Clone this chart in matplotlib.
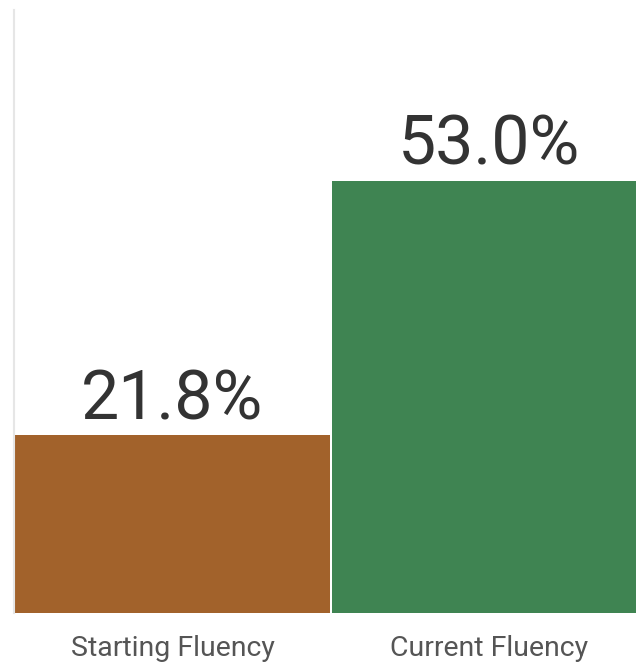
import matplotlib
matplotlib.use('Agg')
import matplotlib.pyplot as plt

categories = ['Starting Fluency', 'Current Fluency']
values = [21.8, 53.0]
colors = ['#A2622B', '#3F8452']

plt.rcParams['font.family'] = ['Roboto', 'DejaVu Sans']

fig = plt.figure(figsize=(6.36, 6.63), dpi=100)
ax = fig.add_axes([14/636, 50/663, 634/636, 603/663])

x = range(len(categories))
bars = ax.bar(x, values, width=0.995, color=colors)

for b, v in zip(bars, values):
    ax.text(b.get_x() + b.get_width()/2, v + 2.0, f'{v:.1f}%',
            ha='center', va='baseline', fontsize=49,
            color='#333333')

ax.set_xlim(-0.5, 1.5)
ax.set_ylim(0, 74)
ax.set_xticks(list(x))
ax.set_xticklabels(categories, fontsize=20.5, color='#555555')
ax.tick_params(axis='x', length=0, pad=16)
ax.set_yticks([])
for s in ['top', 'right', 'bottom']:
    ax.spines[s].set_visible(False)
ax.spines['left'].set_color('#e6e6e6')
ax.spines['left'].set_linewidth(1.5)

fig.savefig('out.png', dpi=100)
